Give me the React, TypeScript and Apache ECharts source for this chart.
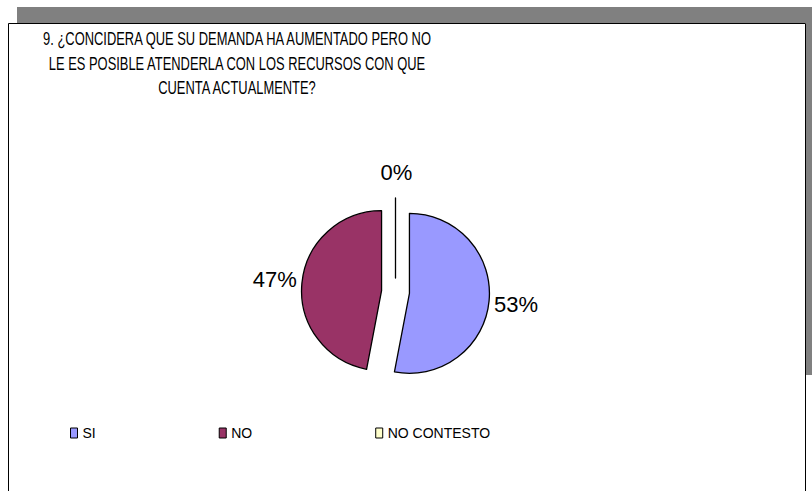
import React, { useEffect, useRef } from "react";
import * as echarts from "echarts";

const titleLines = [
  "9. ¿CONCIDERA QUE SU DEMANDA HA AUMENTADO PERO NO",
  "LE ES POSIBLE ATENDERLA CON LOS RECURSOS CON QUE",
  "CUENTA ACTUALMENTE?",
];
const categories = ["SI", "NO", "NO CONTESTO"];
const values = [53, 47, 0];
const colors = ["#9999FF", "#993366", "#FFFFCC"];

export default function App() {
  const ref = useRef<HTMLDivElement>(null);
  useEffect(() => {
    if (!ref.current) return;
    const chart = echarts.init(ref.current, undefined, { renderer: "svg" });
    const data = categories.map((name, i) => ({
      name,
      value: values[i],
      selected: true,
      itemStyle: { color: colors[i] },
    }));
    chart.setOption({
      animation: false,
      backgroundColor: "#ffffff",
      graphic: [
        { type: "rect", shape: { x: 17, y: 7, width: 795, height: 16 }, style: { fill: "#808080" }, z: 0 },
        { type: "rect", shape: { x: 806, y: 7, width: 6, height: 368 }, style: { fill: "#808080" }, z: 0 },
        {
          type: "rect",
          shape: { x: 8.5, y: 23.5, width: 797, height: 480 },
          style: { fill: "#ffffff", stroke: "#000000", lineWidth: 1 },
          z: 1,
        },
        {
          type: "text",
          x: 237,
          y: 25.75,
          scaleX: 0.68,
          z: 2,
          style: {
            text: titleLines.join("\n"),
            fontFamily: "'Liberation Sans', Arial, sans-serif",
            fontSize: 19,
            lineHeight: 24.5,
            fill: "#000000",
            align: "center",
            verticalAlign: "top",
          },
        },
      ],
      legend: {
        left: 70,
        top: 426,
        padding: 0,
        orient: "horizontal",
        itemWidth: 7,
        itemHeight: 10,
        itemGap: 123,
        icon: "rect",
        itemStyle: { borderColor: "#000000", borderWidth: 1 },
        textStyle: {
          fontFamily: "'Liberation Sans', Arial, sans-serif",
          fontSize: 14,
          color: "#000000",
        },
        data: categories,
        selectedMode: false,
      },
      series: [
        {
          type: "pie",
          center: [395.5, 292],
          radius: 80,
          startAngle: 90,
          clockwise: true,
          selectedMode: "multiple",
          selectedOffset: 14,
          avoidLabelOverlap: false,
          itemStyle: { borderColor: "#000000", borderWidth: 1.3 },
          emphasis: { disabled: true },
          label: {
            show: true,
            position: "outside",
            formatter: "{d}%",
            fontFamily: "'Liberation Sans', Arial, sans-serif",
            fontSize: 22,
            color: "#000000",
            distanceToLabelLine: 5,
          },
          labelLine: { show: false, length: 0, length2: 0 },
          labelLayout: (params: any) => {
            if (params.dataIndex === 2) {
              return { dx: -4, dy: -26, align: "center" };
            }
            if (params.dataIndex === 0) {
              return { dy: 4 };
            }
            if (params.dataIndex === 1) {
              return { dy: -4 };
            }
            return {};
          },
          data,
        },
      ],
    });
    return () => chart.dispose();
  }, []);
  return (
    <div
      ref={ref}
      style={{ position: "absolute", left: 0, top: 0, width: 812, height: 491 }}
    />
  );
}
